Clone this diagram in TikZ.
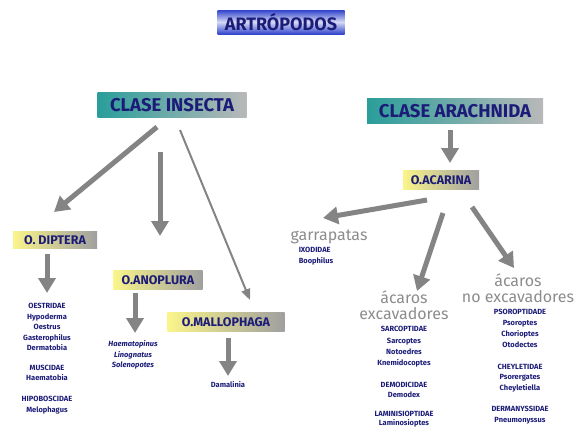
\documentclass[tikz,border=0pt]{standalone}
\usepackage{fontspec}
\setmainfont{Fira Sans}
\usepackage{tikz}
\usetikzlibrary{arrows.meta}
\usetikzlibrary{positioning}
\definecolor{navy}{HTML}{1C1C78}
\definecolor{arrowgray}{HTML}{848484}
\definecolor{softgray}{HTML}{8C8C8C}
\definecolor{tealbox}{HTML}{2A9E9A}
\definecolor{yellowbox}{HTML}{FAF58A}
\definecolor{bluebox}{HTML}{3245CC}
\tikzset{
 titlebox/.style={top color=bluebox, bottom color=bluebox, middle color=bluebox!20, text=navy,
   font=\bfseries\fontsize{18}{20}\selectfont, inner sep=0, minimum width=127, minimum height=24},
 classbox/.style={left color=tealbox, right color=gray!55, text=navy,
   font=\bfseries\fontsize{18.5}{20}\selectfont, inner sep=0, minimum height=25},
 orderbox/.style={left color=yellowbox, right color=gray!75, text=navy,
   font=\bfseries\fontsize{12.5}{14}\selectfont, inner sep=0, minimum height=19},
 bigarrow/.style={draw=arrowgray, line width=5, -{Triangle[width=17,length=15]}},
 thinarrow/.style={draw=arrowgray, line width=2, -{Triangle[width=9,length=11]}},
 genus/.style={text=navy, font=\bfseries\fontsize{7.5}{10.5}\selectfont, align=center, inner sep=0},
 mitegroup/.style={text=softgray, font=\fontsize{16}{16}\selectfont, align=center, inner sep=0}
}
\begin{document}
\begin{tikzpicture}[x=1pt, y=-1pt]
\useasboundingbox (0,0) rectangle (574,429);
\clip (0,0) rectangle (574,429);
% boxes
\node[titlebox] (arthro) at (281,22) {ARTRÓPODOS};
\node[classbox, minimum width=149] (insecta) at (172,105) {CLASE INSECTA};
\node[classbox, minimum width=176] (arachnida) at (455,111) {CLASE ARACHNIDA};
\node[orderbox, minimum width=84, minimum height=17] (diptera) at (55,240) {O. DIPTERA};
\node[orderbox, minimum width=89] (anoplura) at (158,280) {O.ANOPLURA};
\node[orderbox, minimum width=117] (mallophaga) at (226,322) {O.MALLOPHAGA};
\node[orderbox, minimum width=76] (acarina) at (441,180) {O.ACARINA};
% insecta lists
\node[genus] (oestridae) at (47,327) {OESTRIDAE\\Hypoderma\\Oestrus\\Gasterophilus\\Dermatobia};
\node[genus] (muscidae) at (47,373) {MUSCIDAE\\Haematobia};
\node[genus] (hipoboscidae) at (47,405) {HIPOBOSCIDAE\\Melophagus};
\node[genus, font=\bfseries\itshape\fontsize{7.5}{10.5}\selectfont] (anoplist) at (133,355) {Haematopinus\\Linognatus\\Solenopotes};
\node[genus] (damalinia) at (228,385) {Damalinia};
% acarina lists
\node[mitegroup] (garrapatas) at (329,237) {garrapatas};
\node[genus, align=left] (ixodidae) at (316,256) {IXODIDAE\\Boophilus};
\node[mitegroup] (excav) at (404,305) {ácaros\\excavadores};
\node[genus, font=\bfseries\fontsize{7.5}{11.3}\selectfont] (sarcoptidae) at (404,347) {SARCOPTIDAE\\Sarcoptes\\Notoedres\\Knemidocoptes};
\node[genus] (demodicidae) at (404,390) {DEMODICIDAE\\Demodex};
\node[genus, font=\bfseries\fontsize{7.5}{9.5}\selectfont] (laminisioptidae) at (404,419) {LAMINISIOPTIDAE\\Laminosioptes};
\node[mitegroup] (noexcav) at (518,288) {ácaros\\no excavadores};
\node[genus, font=\bfseries\fontsize{7.5}{11}\selectfont] (psoroptidae) at (520,328) {PSOROPTIDADE\\Psoroptes\\Chorioptes\\Otodectes};
\node[genus] (cheyletidae) at (520,378) {CHEYLETIDAE\\Psorergates\\Cheyletiella};
\node[genus] (dermanyssidae) at (520,415) {DERMANYSSIDAE\\Pneumonyssus};
% arrow ends
\coordinate (insD) at (157,127); \coordinate (dipT) at (54,212);
\coordinate (insA) at (160,152); \coordinate (anoT) at (160,236);
\coordinate (insM) at (180,130); \coordinate (malT) at (250,300);
\coordinate (dipB) at (47,254);  \coordinate (oesT) at (47,293);
\coordinate (anoB) at (135,293); \coordinate (haeT) at (135,333);
\coordinate (malB) at (228,338); \coordinate (damT) at (228,376);
\coordinate (araB) at (450,130); \coordinate (acaT) at (450,163);
\coordinate (acaG) at (427,200); \coordinate (garT) at (323,218);
\coordinate (acaE) at (443,213); \coordinate (excT) at (417,291);
\coordinate (acaN) at (472,207); \coordinate (nexT) at (514,268);
\draw[bigarrow] (insD) -- (dipT);
\draw[bigarrow] (insA) -- (anoT);
\draw[thinarrow] (insM) -- (malT);
\draw[bigarrow] (dipB) -- (oesT);
\draw[bigarrow] (anoB) -- (haeT);
\draw[bigarrow] (malB) -- (damT);
\draw[bigarrow] (araB) -- (acaT);
\draw[bigarrow] (acaG) -- (garT);
\draw[bigarrow] (acaE) -- (excT);
\draw[bigarrow] (acaN) -- (nexT);
\end{tikzpicture}
\end{document}
